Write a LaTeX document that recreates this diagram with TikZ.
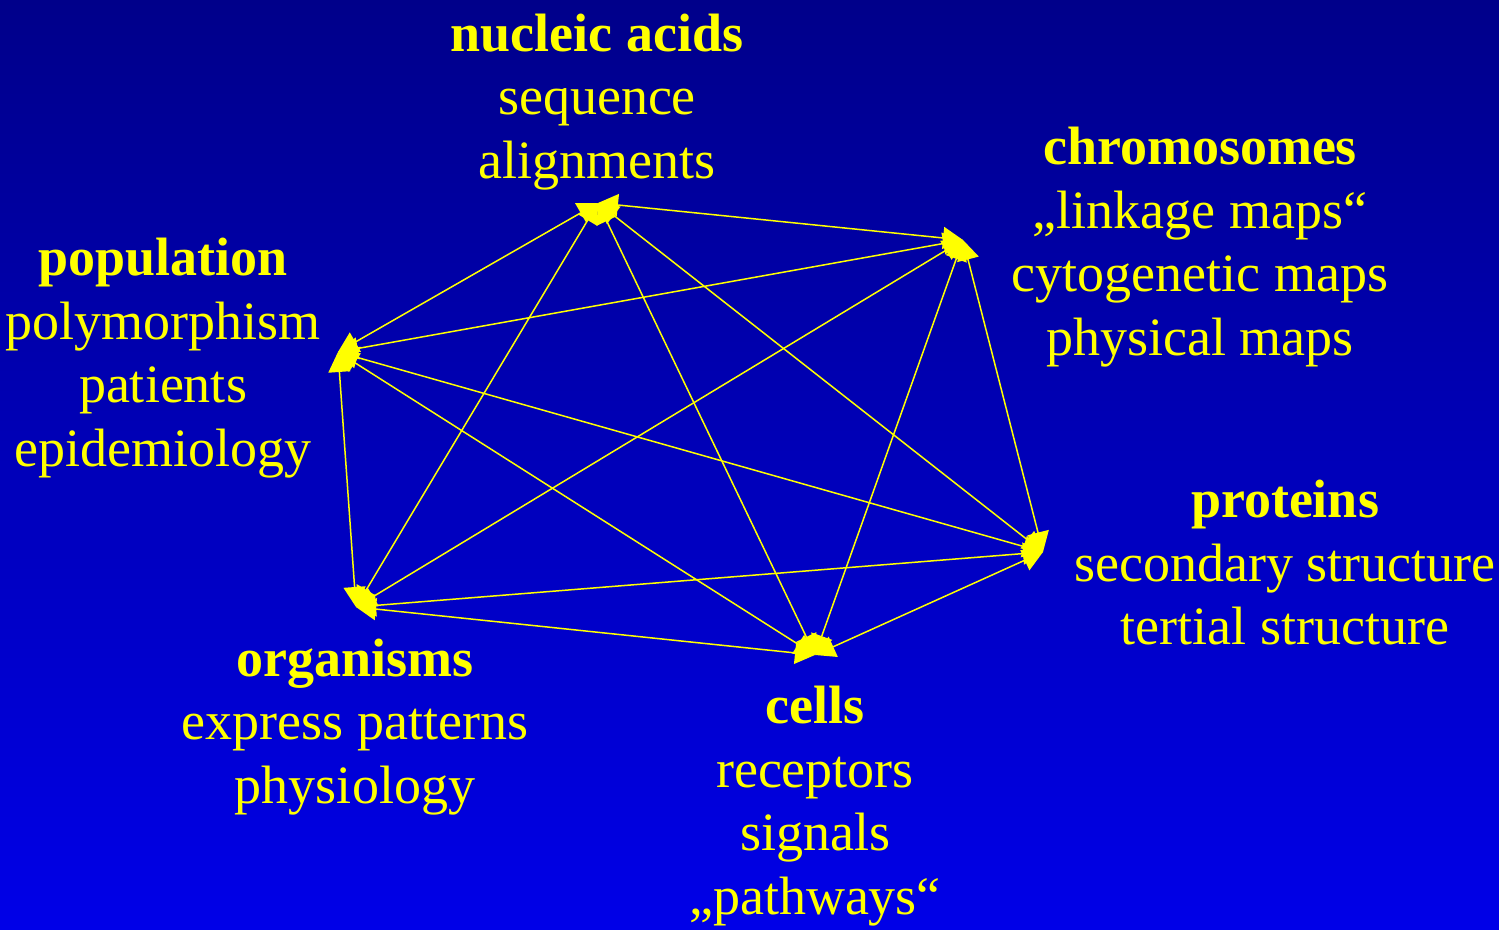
\documentclass[tikz,border=0pt]{standalone}
\usepackage{fontspec}
\setmainfont{Liberation Serif}
\usetikzlibrary{arrows.meta}
\definecolor{slidetop}{RGB}{0,0,138}
\definecolor{slidebottom}{RGB}{0,0,232}
\definecolor{labelyellow}{RGB}{255,255,0}
\tikzset{
  topic/.style={align=center,text=labelyellow,inner sep=0pt,
    font=\fontsize{54bp}{63.5bp}\selectfont},
  link/.style={draw=labelyellow,line width=1.5bp,
    {Triangle[length=20bp,width=22bp]}-{Triangle[length=20bp,width=22bp]}},
}
\begin{document}
\begin{tikzpicture}[line join=bevel]
%%
\shade [top color=slidetop,bottom color=slidebottom] (0bp,0bp) rectangle (1499bp,930bp);
\useasboundingbox (0bp,0bp) rectangle (1499bp,930bp);
%
\coordinate (na) at (598bp,727bp);
  \coordinate (chr) at (963bp,690bp);
  \coordinate (pop) at (338bp,578bp);
  \coordinate (pro) at (1043bp,378bp);
  \coordinate (org) at (356bp,323bp);
  \coordinate (cel) at (815bp,275bp);
%
\node (natext) at (597bp,828bp) [topic] {\textbf{nucleic acids}\\sequence\\alignments};
  \node (chrtext) at (1200bp,683bp) [topic] {\textbf{chromosomes}\\„linkage maps“\\cytogenetic maps\\physical maps};
  \node (poptext) at (163bp,572bp) [topic] {\textbf{population}\\polymorphism\\patients\\epidemiology};
  \node (protext) at (1285bp,367bp) [topic] {\textbf{proteins}\\secondary structure\\tertial structure};
  \node (orgtext) at (355bp,203bp) [topic] {\textbf{organisms}\\express patterns\\physiology};
  \node (celtext) at (815bp,124bp) [topic] {\textbf{cells}\\receptors\\signals\\„pathways“};
%
\draw [link] (na) -- (chr);
  \draw [link] (na) -- (pop);
  \draw [link] (na) -- (org);
  \draw [link] (na) -- (cel);
  \draw [link] (na) -- (pro);
  \draw [link] (chr) -- (pop);
  \draw [link] (chr) -- (org);
  \draw [link] (chr) -- (cel);
  \draw [link] (chr) -- (pro);
  \draw [link] (pop) -- (org);
  \draw [link] (pop) -- (cel);
  \draw [link] (pop) -- (pro);
  \draw [link] (org) -- (pro);
  \draw [link] (org) -- (cel);
  \draw [link] (cel) -- (pro);
%
\end{tikzpicture}
\end{document}
